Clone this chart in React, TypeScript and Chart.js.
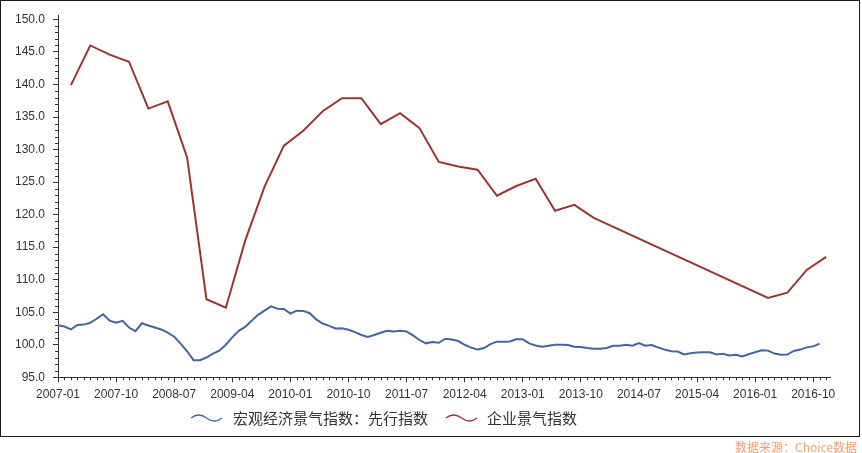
import React, { useEffect, useRef } from 'react';
import { Chart, registerables } from 'chart.js';

Chart.register(...registerables);

// ---- data ----
const startYear = 2007;
const monthTotal = 120; // 2007-01 .. 2016-12
const tickLabels = [
  '2007-01', '2007-10', '2008-07', '2009-04', '2010-01', '2010-10', '2011-07',
  '2012-04', '2013-01', '2013-10', '2014-07', '2015-04', '2016-01', '2016-10',
];
const yTickValues = [95, 100, 105, 110, 115, 120, 125, 130, 135, 140, 145, 150];

const leadingLabel = '宏观经济景气指数：先行指数';
const enterpriseLabel = '企业景气指数';

// monthly, 2007-01 .. 2016-11
const leadingIndex = [
  103.0, 102.8, 102.35, 103.05, 103.1, 103.37, 104.0, 104.7, 103.7, 103.4, 103.67, 102.65,
  102.1, 103.3, 102.96, 102.65, 102.35, 101.85, 101.24, 100.17, 99.0, 97.63, 97.63, 98.04,
  98.65, 99.1, 100.0, 101.13, 102.15, 102.75, 103.7, 104.6, 105.24, 105.9, 105.55, 105.5,
  104.8, 105.24, 105.2, 104.85, 103.9, 103.26, 102.9, 102.5, 102.55, 102.3, 101.94, 101.5,
  101.2, 101.5, 101.85, 102.15, 102.05, 102.15, 102.05, 101.44, 100.73, 100.22, 100.42, 100.3,
  100.93, 100.8, 100.57, 100.0, 99.57, 99.26, 99.5, 100.1, 100.48, 100.48, 100.5, 100.83,
  100.83, 100.22, 99.9, 99.7, 99.85, 100.0, 100.0, 99.95, 99.7, 99.65, 99.5, 99.4,
  99.4, 99.5, 99.85, 99.85, 100.0, 99.85, 100.27, 99.85, 99.95, 99.57, 99.26, 99.0,
  98.95, 98.5, 98.7, 98.8, 98.85, 98.85, 98.5, 98.6, 98.35, 98.45, 98.2, 98.55,
  98.85, 99.15, 99.1, 98.65, 98.45, 98.5, 99.05, 99.26, 99.6, 99.75, 100.17,
];

// quarterly (quarter-end months), 2007-03 .. 2016-12
const enterpriseQuarters = [
  '2007-03', '2007-06', '2007-09', '2007-12', '2008-03', '2008-06', '2008-09', '2008-12',
  '2009-03', '2009-06', '2009-09', '2009-12', '2010-03', '2010-06', '2010-09', '2010-12',
  '2011-03', '2011-06', '2011-09', '2011-12', '2012-03', '2012-06', '2012-09', '2012-12',
  '2013-03', '2013-06', '2013-09', '2013-12', '2014-03', '2014-06', '2014-09', '2014-12',
  '2015-03', '2015-06', '2015-09', '2015-12', '2016-03', '2016-06', '2016-09', '2016-12',
];
const enterpriseIndex: (number | null)[] = [
  139.9, 146.0, 144.6, 143.5, 136.3, 137.4, 128.8, 107.0,
  105.7, 116.0, 124.3, 130.6, 132.9, 135.9, 137.9, 137.9,
  133.9, 135.6, 133.3, 128.1, 127.4, 126.9, 122.9, 124.4,
  125.5, 120.6, 121.5, 119.5, null, null, null, null,
  null, null, null, null, 107.2, 108.0, 111.5, 113.5,
];

// ---- helpers ----
const monthIndex = (label: string) => {
  const [y, m] = label.split('-').map(Number);
  return (y - startYear) * 12 + (m - 1);
};

const BLUE = '#41679c';
const RED = '#9a3533';
const AXIS = '#333333';
const TICK_FONT = { family: "'Liberation Sans', Arial, sans-serif", size: 12 };

const minorTicks = {
  id: 'minorTicks',
  afterDraw(chart: any) {
    const { ctx, scales } = chart;
    const x = scales.x;
    const y = scales.y;
    ctx.save();
    ctx.strokeStyle = AXIS;
    ctx.lineWidth = 1;
    ctx.beginPath();
    for (let i = 0; i < monthTotal; i++) {
      if (i % 9 === 0) continue;
      const px = Math.round(x.getPixelForValue(i)) + 0.5;
      ctx.moveTo(px, y.bottom);
      ctx.lineTo(px, y.bottom + 3);
    }
    for (let v = 95; v <= 150; v++) {
      if (v % 5 === 0) continue;
      const py = Math.round(y.getPixelForValue(v)) + 0.5;
      ctx.moveTo(x.left - 3, py);
      ctx.lineTo(x.left, py);
    }
    ctx.stroke();
    ctx.restore();
  },
};

function Wave({ color }: { color: string }) {
  return (
    <svg width={33} height={12} viewBox="0 0 33 12" style={{ display: 'block' }}>
      <path d="M1,6 Q8.5,0 16.5,6 T32,6" fill="none" stroke={color} strokeWidth={1.3} />
    </svg>
  );
}

export default function App() {
  const canvasRef = useRef<HTMLCanvasElement | null>(null);

  useEffect(() => {
    const canvas = canvasRef.current;
    if (!canvas) return;
    const chart = new Chart(canvas, {
      type: 'line',
      data: {
        datasets: [
          {
            label: leadingLabel,
            data: leadingIndex.map((v, i) => ({ x: i, y: v })),
            borderColor: BLUE,
            backgroundColor: BLUE,
            borderWidth: 2,
            pointRadius: 0,
            tension: 0,
          },
          {
            label: enterpriseLabel,
            data: enterpriseQuarters.map((q, k) => ({ x: monthIndex(q), y: enterpriseIndex[k] })),
            borderColor: RED,
            backgroundColor: RED,
            borderWidth: 2,
            pointRadius: 0,
            tension: 0,
            spanGaps: true,
          },
        ],
      } as any,
      options: {
        animation: false,
        responsive: false,
        maintainAspectRatio: false,
        layout: { padding: { left: 0, right: 32, top: 11.7, bottom: 0 } },
        plugins: { legend: { display: false }, tooltip: { enabled: false } },
        scales: {
          x: {
            type: 'linear',
            min: 0,
            max: 119.6,
            afterBuildTicks: (s: any) => {
              s.ticks = tickLabels.map((l) => ({ value: monthIndex(l) }));
            },
            afterFit: (s: any) => {
              s.height = 75.7;
            },
            ticks: {
              autoSkip: false,
              maxRotation: 0,
              padding: 5,
              color: AXIS,
              font: TICK_FONT,
              callback: (_v: any, idx: number) => tickLabels[idx],
            },
            grid: { drawOnChartArea: false, drawTicks: true, tickLength: 5, color: AXIS },
            border: { display: true, color: AXIS },
          },
          y: {
            type: 'linear',
            min: 95,
            max: 150.65,
            afterBuildTicks: (s: any) => {
              s.ticks = yTickValues.map((v) => ({ value: v }));
            },
            afterFit: (s: any) => {
              s.width = 58;
            },
            ticks: {
              padding: 8,
              color: AXIS,
              font: TICK_FONT,
              callback: (v: any) => Number(v).toFixed(1),
            },
            grid: { drawOnChartArea: false, drawTicks: true, tickLength: 5, color: AXIS },
            border: { display: true, color: AXIS },
          },
        },
      } as any,
      plugins: [minorTicks],
    });
    return () => chart.destroy();
  }, []);

  const legendText: React.CSSProperties = {
    position: 'absolute',
    top: 408,
    lineHeight: '20px',
    fontSize: 15,
    color: '#333',
    fontFamily: "'Noto Sans CJK SC', sans-serif",
    whiteSpace: 'nowrap',
  };

  return (
    <div style={{ position: 'absolute', left: 0, top: 0, width: 862, height: 453, background: '#fff', overflow: 'hidden' }}>
      <canvas ref={canvasRef} width={862} height={453} style={{ position: 'absolute', left: 0, top: 0 }} />
      <div
        style={{
          position: 'absolute', left: 0, top: 0, width: 860, height: 437,
          border: '1px solid #1a1a1a', boxSizing: 'border-box', pointerEvents: 'none',
        }}
      />
      <div style={{ position: 'absolute', left: 190, top: 412 }}>
        <Wave color={BLUE} />
      </div>
      <div style={{ ...legendText, left: 233 }}>{leadingLabel}</div>
      <div style={{ position: 'absolute', left: 445, top: 412 }}>
        <Wave color={RED} />
      </div>
      <div style={{ ...legendText, left: 487 }}>{enterpriseLabel}</div>
      <div
        style={{
          position: 'absolute', right: 5, top: 439, lineHeight: '15px', fontSize: 12,
          color: '#f0a06c', fontFamily: "'Noto Sans CJK SC', sans-serif", whiteSpace: 'nowrap',
        }}
      >
        数据来源：Choice数据
      </div>
    </div>
  );
}
